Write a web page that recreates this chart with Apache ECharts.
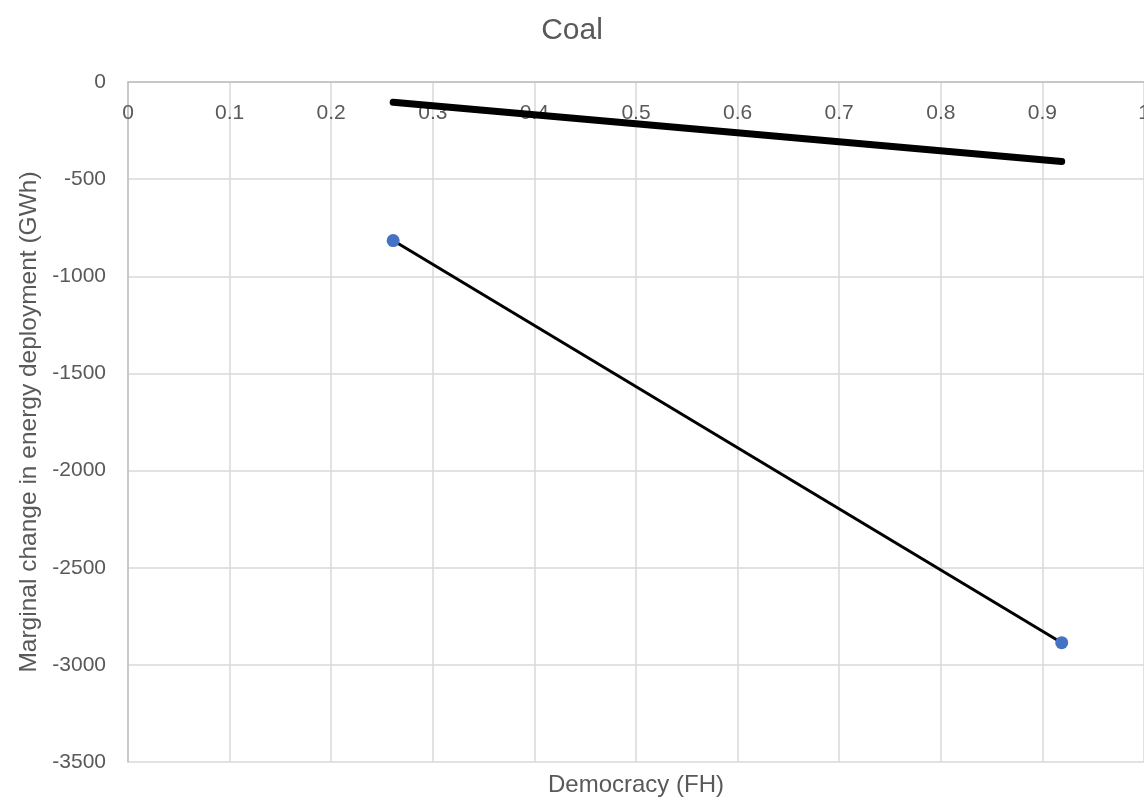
<!DOCTYPE html>
<html>
<head>
<meta charset="utf-8">
<script src="https://cdn.jsdelivr.net/npm/echarts@6/dist/echarts.min.js"></script>
<style>html,body{margin:0;padding:0;background:#fff}#c{width:1144px;height:800px}</style>
</head>
<body>
<div id="c"></div>
<script>
const chartTitle = 'Coal';
const xName = 'Democracy (FH)';
const yName = 'Marginal change in energy deployment (GWh)';
const pointsX = [0.261, 0.919];
const pointsY = [-816, -2886];
const thickX = [0.261, 0.919];
const thickY = [-104, -409];

const font = 'Liberation Sans';
const grey = '#595959';
const chart = echarts.init(document.getElementById('c'), null, {renderer: 'canvas'});
chart.setOption({
  animation: false,
  textStyle: {fontFamily: font},
  title: {text: chartTitle, left: 'center', top: 11, textStyle: {fontFamily: font, fontSize: 30, fontWeight: 'normal', color: grey}},
  grid: {left: 128, right: 0, top: 82, bottom: 38, containLabel: false, outerBoundsMode: 'none'},
  xAxis: [{
    type: 'value', position: 'top', min: 0, max: 1, interval: 0.1,
    axisLine: {show: true, onZero: false, lineStyle: {color: '#bfbfbf', width: 1.5}},
    axisTick: {show: false},
    axisLabel: {inside: true, margin: 31, color: grey, fontSize: 21, fontFamily: font, verticalAlign: 'middle', formatter: v => String(+v.toFixed(1))},
    splitLine: {show: true, lineStyle: {color: '#d9d9d9', width: 1.5}}
  }, {
    type: 'value', position: 'bottom', min: 0, max: 1,
    name: xName, nameLocation: 'middle', nameGap: 11,
    nameTextStyle: {color: grey, fontSize: 24, fontFamily: font},
    axisLine: {show: false}, axisTick: {show: false}, axisLabel: {show: false}, splitLine: {show: false}
  }],
  yAxis: {
    type: 'value', min: -3500, max: 0, interval: 500,
    name: yName, nameLocation: 'middle', nameGap: 85,
    nameTextStyle: {color: grey, fontSize: 24.5, fontFamily: font},
    axisLine: {show: true, lineStyle: {color: '#bfbfbf', width: 1.5}},
    axisTick: {show: false},
    axisLabel: {color: grey, fontSize: 21, fontFamily: font, margin: 22, formatter: v => String(v)},
    splitLine: {show: true, lineStyle: {color: '#d9d9d9', width: 1.5}}
  },
  series: [{
    type: 'line', xAxisIndex: 0,
    data: pointsX.map((x, i) => [x, pointsY[i]]),
    symbol: 'circle', symbolSize: 13,
    itemStyle: {color: '#4472C4'},
    lineStyle: {color: '#000', width: 3}
  }, {
    type: 'line', xAxisIndex: 0,
    data: thickX.map((x, i) => [x, thickY[i]]),
    symbol: 'none',
    lineStyle: {color: '#000', width: 7, cap: 'round'}
  }]
});
</script>
</body>
</html>
